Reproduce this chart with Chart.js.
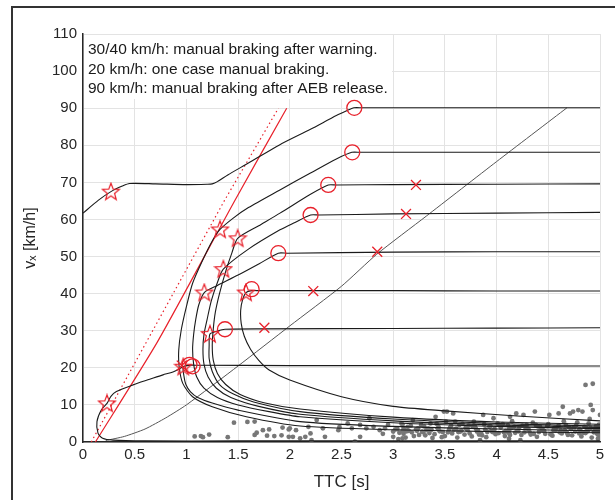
<!DOCTYPE html>
<html>
<head>
<meta charset="utf-8">
<script src="https://cdn.jsdelivr.net/npm/chart.js@4"></script>
<style>
  html, body { margin: 0; padding: 0; background: #fff; }
  #wrap { position: relative; width: 615px; height: 500px; overflow: hidden; }
  #frame { position: absolute; left: 11px; top: 6px; width: 700px; height: 600px;
           border-left: 2px solid #333; border-top: 2px solid #333; }
  canvas { position: absolute; left: 0; top: 0; }
</style>
</head>
<body>
<div id="wrap">
  <div id="frame"></div>
  <canvas id="chart" width="615" height="500"></canvas>
</div>
<script>
// tick labels
const xTicks = [0, 0.5, 1, 1.5, 2, 2.5, 3, 3.5, 4, 4.5, 5];
const yTicks = [0, 10, 20, 30, 40, 50, 60, 70, 80, 90, 100, 110];

const notes = [
  "30/40 km/h: manual braking after warning.",
  "20 km/h: one case manual braking.",
  "90 km/h: manual braking after AEB release."
];

// trajectories (TTC [s], vx [km/h])
const ttc90 = [5, 4, 3, 2.7, 2.62, 2.55, 2.45, 2.2, 1.9, 1.6, 1.4, 1.3, 1.25, 1.2, 1.0, 0.7, 0.45, 0.38, 0.27, 0.15, 0];
const v90   = [90.1, 90.1, 90.1, 90.1, 90.1, 89.3, 88, 84.3, 80.1, 75.2, 72, 70.2, 69.6, 69.5, 69.4, 69.6, 69.7, 69, 67.5, 65.2, 61.7];

const ttc78 = [5, 4, 3, 2.68, 2.6, 2.45, 2.2, 1.9, 1.6, 1.45, 1.325, 1.254, 1.157, 1.06, 1.0, 0.95, 0.926, 0.93, 0.965, 1.06, 1.25, 1.58, 2.1, 3, 4, 5];
const v78   = [78.1, 78.1, 78.1, 78.1, 78.1, 76.3, 72.5, 67.9, 63.2, 60.3, 57.3, 54.4, 49, 42.8, 36.5, 30.2, 24.8, 20.3, 15.8, 12.2, 9.5, 6.8, 4.3, 3.3, 2.8, 2.5];

const ttc69 = [5, 4, 3, 2.45, 2.372, 2.2, 1.905, 1.7, 1.496, 1.44, 1.38, 1.32, 1.28, 1.26, 1.25, 1.26, 1.3, 1.38, 1.52, 1.75, 2.1, 3, 4, 5];
const v69   = [69.6, 69.5, 69.4, 69.3, 69.3, 66.8, 61.7, 58.3, 54.9, 51, 46, 40, 35, 30.5, 26, 22, 18.5, 15.5, 12.8, 10.6, 8.9, 6.7, 5.4, 4.8];

const ttc61 = [5, 4, 3, 2.28, 2.201, 2.05, 1.905, 1.6, 1.357, 1.3, 1.24, 1.2, 1.17, 1.16, 1.17, 1.21, 1.29, 1.43, 1.7, 2.1, 3, 4, 5];
const v61   = [61.9, 61.7, 61.5, 61.2, 61.2, 59.2, 57.2, 52, 46.6, 43, 38, 33, 29, 25, 21, 17.5, 14.5, 12, 9.6, 7.5, 5.7, 4.6, 3.9];

const ttc51 = [5, 4, 3, 1.97, 1.889, 1.7, 1.5, 1.3, 1.173, 1.12, 1.09, 1.07, 1.06, 1.07, 1.1, 1.17, 1.3, 1.5, 1.8, 2.1, 3, 4, 5];
const v51   = [51.3, 51.3, 51.2, 50.9, 50.9, 48, 45, 42.2, 40.3, 37, 33, 29, 25, 21, 17.5, 14.5, 12, 10, 8.2, 6.8, 5.2, 4.2, 3.6];

const ttc41 = [5, 4, 3, 2.227, 1.7, 1.631, 1.576, 1.545, 1.525, 1.53, 1.56, 1.62, 1.7, 1.8, 2.0, 2.5, 3.0, 3.5, 4.2, 5];
const v41   = [40.7, 40.7, 40.8, 40.8, 40.8, 40.8, 40.3, 38.5, 35.5, 32, 28.5, 25, 22, 19.4, 16.7, 12.2, 9.6, 8.4, 7.0, 5.7];

const ttc30 = [5, 4, 3, 1.754, 1.373, 1.3, 1.228, 1.22, 1.22, 1.25, 1.32, 1.45, 1.65, 2.1, 3, 4, 5];
const v30   = [30.8, 30.7, 30.6, 30.5, 30.4, 29.9, 29.1, 26, 22.5, 19, 15.5, 13, 10.8, 8.2, 6.2, 5.0, 4.3];

const ttc20 = [5, 4, 3, 2, 1.1, 1.04, 0.97, 0.975, 0.995, 1.04, 1.11, 1.25, 1.5, 2.1, 3, 4, 5];
const v20   = [20.5, 20.5, 20.6, 20.6, 20.7, 20.7, 20.3, 18, 15.5, 13.5, 12, 10.5, 8.6, 5.5, 4.2, 3.5, 3.0];

const ttc20m = [0.97, 0.87, 0.774, 0.645, 0.484, 0.323, 0.27, 0.232, 0.177, 0.135, 0.145, 0.19, 0.29, 0.6, 1.5, 3, 5];
const v20m   = [20.3, 18.9, 18.1, 16.9, 15.4, 13.6, 12.3, 10.4, 8.6, 5.5, 2.4, 1.0, 0.5, 0.3, 0.3, 0.3, 0.3];

// gray boundary
const ttcGray = [0.22, 0.4, 0.6, 0.8, 1.0, 1.5, 2.0, 2.5, 2.84, 3.32, 4.0, 4.68];
const vGray   = [0.4, 1.5, 3.5, 6.5, 10, 20.5, 31.3, 42.0, 50.6, 60.9, 75.6, 90.1];

// red reference lines
const ttcRed    = [0.12, 0.72, 1.47, 1.97];
const vRed      = [0, 27, 65.2, 90];
const ttcRedDot = [0.08, 1.37, 1.89];
const vRedDot   = [0, 65.2, 90];

// event markers
const ttcStar = [0.27, 1.325, 1.496, 1.357, 1.173, 1.576, 1.228, 0.97, 0.232];
const vStar   = [67.5, 57.3, 54.9, 46.6, 40.3, 40.3, 29.1, 20.3, 10.4];
const ttcCirc = [2.624, 2.604, 2.372, 2.201, 1.889, 1.631, 1.373, 1.03, 1.06];
const vCirc   = [90.1, 78.1, 69.3, 61.2, 50.9, 41.2, 30.4, 20.8, 20.4];
const ttcX    = [3.22, 3.124, 2.846, 2.227, 1.754, 0.955];
const vX      = [69.3, 61.5, 51.3, 40.7, 30.8, 20.6];

// gray samples
const ttcDots = [1.08,1.14,1.16,1.22,1.40,1.46,1.59,1.66,1.66,1.68,1.74,1.80,1.78,1.85,1.93,1.92,1.99,1.99,2.06,
  2.0,2.03,2.1,2.15,2.18,2.21,2.2,2.26,2.32,2.34,2.47,2.48,2.56,2.6,2.63,2.68,2.68,2.74,2.77,2.81,2.87,2.92,3.0,3.0,
  3.08,3.11,3.14,3.19,3.22,3.27,3.32,3.36,3.41,3.43,3.49,3.51,
  3.52,3.58,3.6,3.64,3.71,3.78,3.81,3.87,3.93,3.97,4.01,4.1,4.13,4.19,4.26,4.29,4.37,4.42,4.51,4.55,4.6,4.64,4.67,
  4.71,4.74,4.79,4.83,4.86,4.93,4.91,4.93,5.0,4.8,4.23,3.84,
  3.05,3.1,3.1,3.12,3.18,3.25,3.3,3.35,3.38,3.45,3.5,3.55,3.57,3.62,3.66,3.69,3.73,3.76,3.8,3.85,3.88,3.9,3.95,3.99,
  4.04,4.08,4.11,4.12,4.12,4.12,4.15,4.2,4.24,4.28,4.32,4.35,4.39,4.44,4.47,4.5,4.54,4.58,4.61,4.65,4.69,4.72,4.76,
  4.78,4.82,4.85,4.88,4.9,4.92,4.95,4.97,4.99,5.0,5.0,
  2.9,2.95,3.02,3.06,3.09,3.09,3.09,3.15,3.2,3.24,3.28,3.31,3.34,3.4,3.44,3.47,3.53,3.56,3.59,3.63,3.67,3.7,3.74,
  3.77,3.82,3.86,3.91,3.94,3.98,4.02,4.06,4.09,4.13,4.17,4.21,4.25,4.3,4.33,4.38,4.41,4.45,4.49,4.53,4.57,4.6,4.63,
  4.66,4.7,4.73,4.77,4.81,4.84,4.87,4.89,4.94,4.96,4.98,4.98,4.98,
  3.04,3.13,3.17,3.23,3.29,3.37,3.42,3.48,3.54,3.61,3.65,3.72,3.79,3.83,3.89,3.96,4.03,4.07,4.14,4.18,4.22,4.27,
  4.31,4.36,4.4,4.46,4.52,4.56,4.62,4.68,4.75,4.8,4.86,4.91,4.96,4.99];
const vDots = [1.5,1.6,1.3,2.0,1.3,5.2,5.4,5.5,1.9,2.5,3.2,3.4,1.7,1.6,3.9,1.8,3.4,1.4,3.2,
  3.7,1.4,1.0,1.4,4.1,0.5,2.3,5.9,3.7,1.4,3.2,4.0,5.0,3.7,0.1,1.4,4.6,3.7,6.4,4.1,3.2,3.7,2.8,1.4,
  5.0,3.2,4.1,5.9,3.4,4.6,3.2,5.0,6.8,3.7,8.2,5.5,
  8.2,7.7,5.5,4.6,3.7,5.5,2.8,7.3,4.1,6.4,5.0,2.8,6.8,7.7,7.3,4.6,8.2,4.1,7.3,3.2,7.7,9.5,4.6,
  7.7,8.2,8.6,8.2,15.4,15.7,10,8.6,7.3,2.3,0.5,0.5,
  0.8,2.2,3.8,1.2,2.6,1.9,4.2,2.4,1.1,2.9,1.6,3.9,2.3,1.2,3.1,2.0,4.4,1.5,3.6,2.4,4.8,1.3,3.0,2.1,
  3.9,1.6,4.5,0.9,2.4,3.4,5.6,3.1,1.9,3.8,2.6,5.2,1.4,3.3,2.2,4.8,1.7,3.9,2.6,5.6,1.9,3.5,2.8,
  5.3,1.5,4.1,2.9,6.2,1.2,3.6,2.3,4.7,1.6,3.0,
  2.2,4.6,3.4,2.5,1.0,2.9,4.7,3.0,1.6,3.7,2.8,1.8,3.6,2.1,4.0,1.3,2.6,4.4,3.3,2.7,4.9,3.8,2.3,
  4.2,3.1,1.8,2.7,4.3,3.5,2.4,4.8,3.0,1.9,4.1,2.9,4.4,3.6,2.0,4.6,2.7,3.1,4.3,2.0,3.1,4.4,2.3,
  3.2,4.0,1.8,4.5,3.2,2.5,3.8,5.0,2.6,4.2,3.3,0.9,2.0,
  3.5,2.9,4.4,3.0,2.6,3.3,4.9,2.7,3.3,3.6,2.8,3.2,4.2,2.0,3.4,2.7,4.6,2.6,3.7,2.5,4.0,2.6,
  3.4,2.2,4.2,3.0,2.1,3.8,3.2,2.5,4.0,3.4,2.4,3.8,2.7,3.9];

const pts = (t, v) => t.map((x, i) => ({ x: x, y: v[i] }));

// outlined five-point star for the markers
function starImage(size, color) {
  const c = document.createElement("canvas");
  c.width = size; c.height = size;
  const g = c.getContext("2d");
  const cx = size / 2, cy = size / 2 + 0.5, R = size / 2 - 1, r = R * 0.42;
  g.beginPath();
  for (let i = 0; i < 10; i++) {
    const a = -Math.PI / 2 + i * Math.PI / 5;
    const rad = i % 2 === 0 ? R : r;
    g.lineTo(cx + rad * Math.cos(a), cy + rad * Math.sin(a));
  }
  g.closePath();
  g.strokeStyle = color;
  g.lineWidth = 1.2;
  g.stroke();
  return c;
}

const RED = "#e8202a";
const BLACK = "#1a1a1a";

function curve(t, v) {
  return { data: pts(t, v), showLine: true, borderColor: BLACK, borderWidth: 1.1, pointRadius: 0, tension: 0.25 };
}

const datasets = [
  { data: pts(ttcStar, vStar), pointStyle: starImage(20, RED), pointRadius: 10, showLine: false },
  { data: pts(ttcCirc, vCirc), pointStyle: "circle", pointRadius: 7.5, borderColor: RED, borderWidth: 1.3,
    backgroundColor: "rgba(0,0,0,0)", showLine: false },
  { data: pts(ttcX, vX), pointStyle: "crossRot", pointRadius: 7, borderColor: RED, borderWidth: 1.3, showLine: false },
  curve(ttc90, v90), curve(ttc78, v78), curve(ttc69, v69), curve(ttc61, v61),
  curve(ttc51, v51), curve(ttc41, v41), curve(ttc30, v30), curve(ttc20, v20), curve(ttc20m, v20m),
  { data: pts(ttcRed, vRed), showLine: true, borderColor: RED, borderWidth: 1.2, pointRadius: 0, tension: 0.2 },
  { data: pts(ttcRedDot, vRedDot), showLine: true, borderColor: RED, borderWidth: 1.2, borderDash: [1.5, 3],
    pointRadius: 0 },
  { data: pts(ttcGray, vGray), showLine: true, borderColor: "#555", borderWidth: 1, pointRadius: 0, tension: 0.2 },
  { data: pts(ttcDots, vDots), showLine: false, pointRadius: 2.4, backgroundColor: "#777", borderWidth: 0 }
];

const FONT = "Liberation Sans";

// white annotation box with the three notes
const noteBox = {
  id: "noteBox",
  afterDatasetsDraw(chart) {
    const { ctx, scales: { x, y } } = chart;
    ctx.save();
    ctx.fillStyle = "#fff";
    ctx.fillRect(x.left + 1, y.top + 1, 308, 64);
    ctx.fillStyle = "#1a1a1a";
    ctx.font = "15.5px '" + FONT + "'";
    ctx.textBaseline = "middle";
    notes.forEach((s, i) => ctx.fillText(s, x.left + 5, y.top + 16 + i * 19.6));
    ctx.restore();
  }
};

new Chart(document.getElementById("chart"), {
  type: "scatter",
  data: { datasets: datasets },
  options: {
    responsive: false,
    animation: false,
    devicePixelRatio: 1,
    layout: { padding: { left: 0, top: 34, right: 15, bottom: 0 } },
    plugins: { legend: { display: false }, tooltip: { enabled: false } },
    scales: {
      x: {
        type: "linear", min: 0, max: 5,
        afterBuildTicks: s => { s.ticks = xTicks.map(v => ({ value: v })); },
        afterFit: s => { s.height = 58; },
        ticks: { color: "#262626", font: { family: FONT, size: 15 }, padding: 4,
                 callback: v => String(v) },
        grid: { color: "#e3e3e3", lineWidth: 1, drawTicks: false },
        border: { color: "#262626", width: 1.5 },
        title: { display: true, text: "TTC [s]", color: "#262626",
                 font: { family: FONT, size: 17 }, padding: { top: 0, bottom: 7 } }
      },
      y: {
        type: "linear", min: 0, max: 110,
        afterBuildTicks: s => { s.ticks = yTicks.map(v => ({ value: v })); },
        afterFit: s => { s.width = 83; },
        ticks: { color: "#262626", font: { family: FONT, size: 15 }, padding: 6 },
        grid: { color: "#e3e3e3", lineWidth: 1, drawTicks: false },
        border: { color: "#262626", width: 1.5 },
        title: { display: true, text: "vₓ [km/h]", color: "#262626",
                 font: { family: FONT, size: 16 }, padding: { top: 21, bottom: 0 } }
      }
    }
  },
  plugins: [noteBox]
});
</script>
</body>
</html>
